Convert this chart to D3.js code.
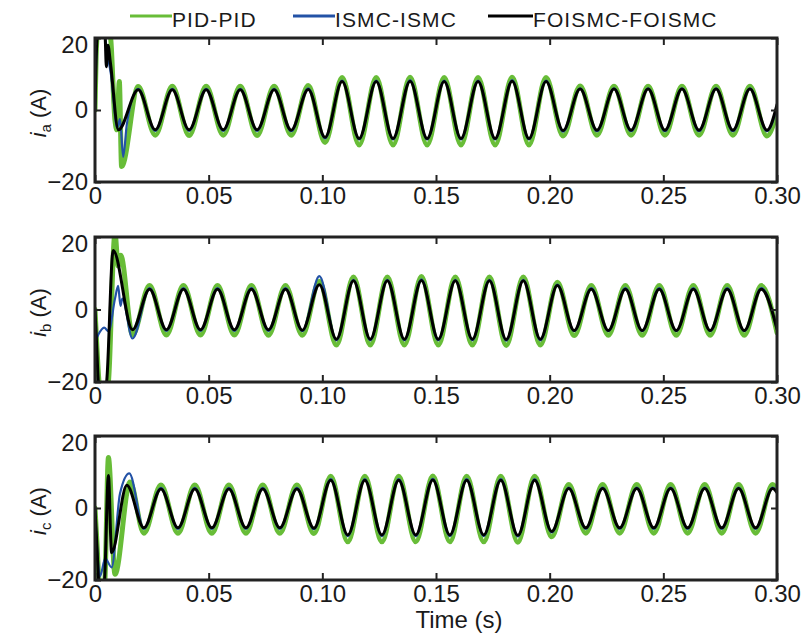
<!DOCTYPE html>
<meta charset="utf-8">
<style>

body {
  margin: 0;
  background: #fff;
}

text {
  font-family: "Liberation Sans", Arial, sans-serif;
  fill: #1a1a1a;
}

.axis line {
  stroke: #222;
  stroke-width: 2;
}

.axis path {
  display: none;
}

.line {
  fill: none;
  stroke-linejoin: round;
  stroke-linecap: round;
}

</style>
<body>
<script src="https://cdn.jsdelivr.net/npm/d3@7"></script>
<script>

// ---- data (time in s, current in A) ----

const seriesNames = ["PID-PID", "ISMC-ISMC", "FOISMC-FOISMC"];
const xTicks = [0, 0.05, 0.10, 0.15, 0.20, 0.25, 0.30];
const xTickLabels = ["0", "0.05", "0.10", "0.15", "0.20", "0.25", "0.30"];
const yTicks = [-20, 0, 20];
const yTickLabels = ["\u221220", "0", "20"];
const phaseNames = ["a", "b", "c"];

// phase a: start-up points, then peak/trough times shared by the three controllers
const greenA0 = [[0, 0], [0.0005, 15], [0.0011, 21], [0.0066, 21], [0.0088, -3], [0.0096, -5.5], [0.0107, 7.9], [0.0117, -15.7]];
const blueA0 = [[0, 0], [0.0005, 14], [0.0011, 21], [0.0040, 21], [0.0056, 15], [0.0070, 10], [0.0098, -5.0], [0.0110, -2.5], [0.0124, -13], [0.0140, -4]];
const blackA0 = [[0, 0], [0.0005, 14], [0.0011, 20.5], [0.0044, 20.5], [0.0050, 12], [0.0057, 18], [0.0068, 13], [0.0103, -5.5]];

const tA = [
  0.0190, 0.0265, 0.0340, 0.0414, 0.0489, 0.0564, 0.0639, 0.0713, 0.0788, 0.0863,
  0.0938, 0.1012, 0.1087, 0.1162, 0.1237, 0.1311, 0.1386, 0.1461, 0.1536, 0.1610,
  0.1685, 0.1760, 0.1835, 0.1909, 0.1984, 0.2059, 0.2134, 0.2208, 0.2283, 0.2358,
  0.2433, 0.2507, 0.2582, 0.2657, 0.2732, 0.2806, 0.2881, 0.2956, 0.3000];
const greenA = [
  6.5, -7.0, 6.6, -7.1, 6.6, -7.0, 6.6, -7.1, 6.6, -7.0,
  6.8, -9.0, 9.0, -9.7, 9.0, -9.7, 9.1, -9.7, 9.0, -9.7,
  9.0, -9.7, 9.1, -9.7, 9.0, -7.2, 6.7, -7.0, 6.6, -7.0,
  6.6, -7.0, 6.6, -7.0, 6.6, -7.0, 6.6, -7.2, -0.5];
const blueA = [
  5.9, -5.8, 5.9, -5.8, 5.9, -5.8, 5.9, -5.8, 5.9, -5.9,
  6.0, -7.9, 8.2, -8.2, 8.2, -8.2, 8.3, -8.2, 8.2, -8.2,
  8.2, -8.2, 8.3, -8.2, 8.2, -6.0, 6.0, -5.9, 6.0, -5.9,
  6.0, -5.9, 6.0, -5.9, 6.0, -5.9, 6.0, -5.9, 0.8];
const blackA = [
  5.6, -5.5, 5.6, -5.5, 5.6, -5.5, 5.6, -5.5, 5.6, -5.6,
  5.7, -7.6, 7.9, -7.9, 7.9, -7.9, 8.0, -7.9, 7.9, -7.9,
  7.9, -7.9, 8.0, -7.9, 7.9, -5.7, 5.8, -5.6, 5.8, -5.6,
  5.8, -5.6, 5.8, -5.6, 5.8, -5.6, 5.8, -5.6, 1.5];

// phase b
const greenB0 = [[0, 0], [0.0008, -10], [0.0021, -21], [0.0056, -21], [0.0088, 21], [0.0102, 12], [0.0113, 15]];
const blueB0 = [[0, 0], [0.0006, -8], [0.0014, -7], [0.0040, -5], [0.0060, -6], [0.0088, 3], [0.0102, 6.5], [0.0112, 1], [0.0120, 3]];
const blackB0 = [[0, 0], [0.0006, -8], [0.0017, -21], [0.0048, -21], [0.0080, 16.3]];

const tB = [
  0.0165, 0.0240, 0.0314, 0.0389, 0.0464, 0.0539, 0.0613, 0.0688, 0.0763, 0.0838,
  0.0912, 0.0987, 0.1062, 0.1137, 0.1211, 0.1286, 0.1361, 0.1436, 0.1510, 0.1585,
  0.1660, 0.1735, 0.1809, 0.1884, 0.1959, 0.2034, 0.2108, 0.2183, 0.2258, 0.2333,
  0.2407, 0.2482, 0.2557, 0.2632, 0.2706, 0.2781, 0.2856, 0.2931, 0.3000];
const greenB = [
  -7.0, 6.6, -7.0, 6.6, -7.0, 6.6, -7.0, 6.6, -7.1, 6.6,
  -7.1, 7.8, -9.8, 9.0, -9.8, 9.0, -9.8, 9.1, -9.8, 9.0,
  -9.8, 9.0, -9.9, 9.0, -9.8, 7.5, -7.2, 6.6, -7.1, 6.6,
  -7.1, 6.6, -7.1, 6.6, -7.1, 6.6, -7.1, 6.6, -6.4];
const blueB = [
  -8.0, 5.9, -5.9, 5.9, -5.9, 5.9, -5.9, 5.9, -5.9, 5.9,
  -6.0, 9.2, -8.5, 8.2, -8.5, 8.2, -8.5, 8.3, -8.5, 8.2,
  -8.5, 8.2, -8.6, 8.2, -8.5, 6.9, -6.0, 5.9, -6.0, 5.9,
  -6.0, 5.9, -6.0, 5.9, -6.0, 5.9, -6.0, 5.9, -5.6];
const blackB = [
  -5.6, 5.6, -5.6, 5.6, -5.6, 5.6, -5.6, 5.6, -5.6, 5.6,
  -5.7, 6.8, -8.2, 7.9, -8.2, 7.9, -8.2, 8.0, -8.2, 7.9,
  -8.2, 7.9, -8.3, 7.9, -8.2, 6.6, -5.8, 5.6, -5.8, 5.6,
  -5.8, 5.6, -5.8, 5.6, -5.8, 5.6, -5.8, 5.6, -5.4];

// phase c
const greenC0 = [[0, 0], [0.0008, -9], [0.0020, -21], [0.0042, -21], [0.0059, 14], [0.0088, -18.4], [0.0154, 7.2]];
const blueC0 = [[0, 0], [0.0010, -12], [0.0022, -19], [0.0045, -14], [0.0073, -16.5], [0.0110, 4], [0.0151, 9.6]];
const blackC0 = [[0, 0], [0.0008, -10], [0.0018, -21], [0.0040, -21], [0.0059, 9], [0.0073, -12.4]];

const tC = [
  0.0140, 0.0215, 0.0290, 0.0365, 0.0439, 0.0514, 0.0589, 0.0664, 0.0738, 0.0813,
  0.0888, 0.0963, 0.1037, 0.1112, 0.1187, 0.1262, 0.1336, 0.1411, 0.1486, 0.1561,
  0.1635, 0.1710, 0.1785, 0.1860, 0.1934, 0.2009, 0.2084, 0.2159, 0.2233, 0.2308,
  0.2383, 0.2458, 0.2532, 0.2607, 0.2682, 0.2757, 0.2831, 0.2906, 0.2981, 0.3000];
const greenC = [
  7.2, -7.0, 6.4, -7.0, 6.4, -7.0, 6.4, -7.0, 6.4, -7.0,
  6.4, -7.1, 8.8, -9.4, 8.8, -9.4, 8.8, -9.4, 8.9, -9.4,
  8.8, -9.4, 8.8, -9.5, 8.8, -8.0, 6.5, -7.0, 6.5, -7.0,
  6.5, -7.0, 6.5, -7.0, 6.5, -7.0, 6.5, -7.0, 6.5, 5.2];
const blueC = [
  9.6, -5.8, 5.6, -5.8, 5.6, -5.8, 5.6, -5.8, 5.6, -5.8,
  5.6, -5.9, 8.0, -7.8, 8.0, -7.8, 8.0, -7.8, 8.1, -7.8,
  8.0, -7.8, 8.0, -7.9, 8.0, -6.8, 5.7, -5.8, 5.7, -5.8,
  5.7, -5.8, 5.7, -5.8, 5.7, -5.8, 5.7, -5.8, 5.7, 4.6];
const blackC = [
  6.3, -5.5, 5.3, -5.5, 5.3, -5.5, 5.3, -5.5, 5.3, -5.5,
  5.3, -5.6, 7.7, -7.5, 7.7, -7.5, 7.7, -7.5, 7.8, -7.5,
  7.7, -7.5, 7.7, -7.6, 7.7, -6.5, 5.4, -5.5, 5.4, -5.5,
  5.4, -5.5, 5.4, -5.5, 5.4, -5.5, 5.4, -5.5, 5.4, 4.3];

// ---- layout ----

const width = 812, height = 633;
const left = 95, right = 777;
const panels = [
  {top: 38, bottom: 182},
  {top: 237, bottom: 382},
  {top: 436, bottom: 580}
];
const colors = ["#68bd38", "#2352a6", "#000000"];
const widths = [5, 2.2, 3];
const legendPos = [[130, 172], [293, 335], [488, 533]];

// start-up points, then the steady extrema that come after them
function build(start, times, values) {
  const t0 = start[start.length - 1][0];
  return start.concat(times.map((t, i) => [t, values[i]]).filter(d => d[0] > t0));
}

const data = [
  [build(greenA0, tA, greenA), build(blueA0, tA, blueA), build(blackA0, tA, blackA)],
  [build(greenB0, tB, greenB), build(blueB0, tB, blueB), build(blackB0, tB, blackB)],
  [build(greenC0, tC, greenC), build(blueC0, tC, blueC), build(blackC0, tC, blackC)]
];

const svg = d3.select("body").append("svg")
    .attr("width", width)
    .attr("height", height);

const x = d3.scaleLinear()
    .domain([0, 0.3])
    .range([left, right]);

panels.forEach((p, k) => {
  const y = d3.scaleLinear()
      .domain([-20, 20])
      .range([p.bottom, p.top]);

  const g = svg.append("g");

  g.append("clipPath")
      .attr("id", "clip" + k)
    .append("rect")
      .attr("x", left)
      .attr("y", p.top)
      .attr("width", right - left)
      .attr("height", p.bottom - p.top);

  const line = d3.line()
      .x(d => x(d[0]))
      .y(d => y(d[1]))
      .curve(d3.curveMonotoneX);

  g.append("g")
      .attr("clip-path", "url(#clip" + k + ")")
    .selectAll("path")
    .data(data[k])
    .join("path")
      .attr("class", "line")
      .attr("stroke", (d, i) => colors[i])
      .attr("stroke-width", (d, i) => widths[i])
      .attr("d", line);

  // axes, ticks pointing inwards
  g.append("g")
      .attr("class", "axis")
      .attr("transform", `translate(0,${p.bottom})`)
      .call(d3.axisBottom(x).tickValues(xTicks).tickSize(-7).tickPadding(5)
        .tickFormat((d, i) => xTickLabels[i]))
      .call(s => s.selectAll("text").attr("font-size", 24));

  g.append("g")
      .attr("class", "axis")
      .attr("transform", `translate(0,${p.top})`)
      .call(d3.axisTop(x).tickValues(xTicks).tickSize(-7).tickFormat(""));

  g.append("g")
      .attr("class", "axis")
      .attr("transform", `translate(${left},0)`)
      .call(d3.axisLeft(y).tickValues(yTicks).tickSize(-6).tickPadding(7)
        .tickFormat((d, i) => yTickLabels[i]))
      .call(s => s.selectAll("text")
        .attr("font-size", 24)
        .attr("dy", d => d === 20 ? "0.62em" : "0.33em"));

  g.append("g")
      .attr("class", "axis")
      .attr("transform", `translate(${right},0)`)
      .call(d3.axisRight(y).tickValues(yTicks).tickSize(-6).tickFormat(""));

  g.append("rect")
      .attr("x", left)
      .attr("y", p.top)
      .attr("width", right - left)
      .attr("height", p.bottom - p.top)
      .attr("fill", "none")
      .attr("stroke", "#222")
      .attr("stroke-width", 3);

  const label = g.append("text")
      .attr("transform", `translate(46,${(p.top + p.bottom) / 2 + 3}) rotate(-90)`)
      .attr("text-anchor", "middle")
      .attr("font-size", 22);
  label.append("tspan").attr("font-style", "italic").text("i");
  label.append("tspan").attr("font-size", 15).attr("dy", 5).text(phaseNames[k]);
  label.append("tspan").attr("dy", -5).text(" (A)");
});

svg.append("text")
    .attr("x", 459)
    .attr("y", 628)
    .attr("text-anchor", "middle")
    .attr("font-size", 24)
    .text("Time (s)");

// legend
const legend = svg.append("g")
  .selectAll("g")
  .data(seriesNames)
  .join("g");

legend.append("line")
    .attr("x1", (d, i) => legendPos[i][0])
    .attr("x2", (d, i) => legendPos[i][1])
    .attr("y1", 16)
    .attr("y2", 16)
    .attr("stroke", (d, i) => colors[i])
    .attr("stroke-width", 3);

legend.append("text")
    .attr("x", (d, i) => legendPos[i][1])
    .attr("y", 27)
    .attr("font-size", 21)
    .attr("letter-spacing", 1.1)
    .text(d => d);

</script>
